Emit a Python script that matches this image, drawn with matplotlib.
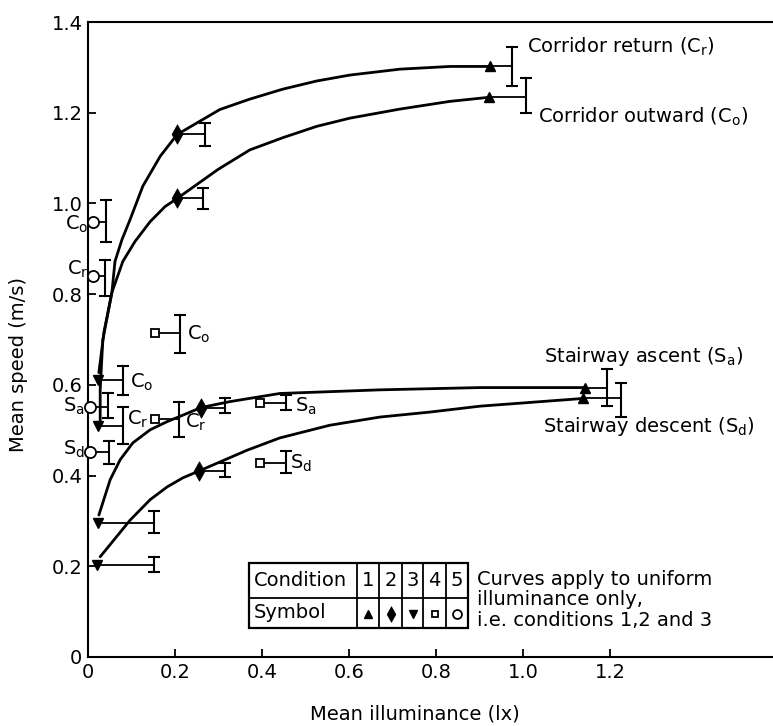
import matplotlib
matplotlib.use('Agg')
import matplotlib.pyplot as plt
from matplotlib.patches import Rectangle

plt.rcParams['font.family'] = ['DejaVu Sans']
plt.rcParams['mathtext.default'] = 'regular'
plt.rcParams['font.size'] = 14

# measured points: condition, mean illuminance, mean speed,
# and the speed range bar drawn at the end of the illuminance range
pt_cond = [1, 1, 2, 2, 5, 5, 3, 5, 3, 5, 4, 4, 4, 4, 2, 2, 1, 1, 3, 3]
pt_x = [0.924, 0.922, 0.205, 0.205, 0.011, 0.011, 0.023, 0.005, 0.023, 0.005,
        0.154, 0.154, 0.395, 0.395, 0.26, 0.255, 1.143, 1.138, 0.023, 0.021]
pt_y = [1.302, 1.234, 1.152, 1.011, 0.958, 0.839, 0.611, 0.552, 0.51, 0.453,
        0.715, 0.525, 0.561, 0.428, 0.55, 0.41, 0.594, 0.57, 0.296, 0.203]
bar_x = [0.975, 1.007, 0.269, 0.264, 0.041, 0.039, 0.08, 0.046, 0.08, 0.048,
         0.211, 0.209, 0.455, 0.455, 0.315, 0.315, 1.193, 1.225, 0.152, 0.152]
bar_lo = [1.258, 1.199, 1.126, 0.987, 0.914, 0.795, 0.578, 0.528, 0.47, 0.426,
          0.671, 0.486, 0.545, 0.406, 0.539, 0.397, 0.554, 0.53, 0.274, 0.188]
bar_hi = [1.344, 1.276, 1.177, 1.035, 1.007, 0.876, 0.642, 0.581, 0.552, 0.477,
          0.755, 0.563, 0.578, 0.455, 0.57, 0.428, 0.634, 0.605, 0.322, 0.221]

# fitted curves
cr_x = [0.028, 0.028, 0.034, 0.055, 0.062, 0.078, 0.097, 0.126, 0.166, 0.205,
        0.303, 0.372, 0.448, 0.526, 0.602, 0.717, 0.832, 0.924]
cr_y = [0.51, 0.589, 0.699, 0.804, 0.872, 0.92, 0.965, 1.038, 1.104, 1.152,
        1.207, 1.23, 1.252, 1.27, 1.283, 1.296, 1.302, 1.302]
co_x = [0.025, 0.037, 0.055, 0.08, 0.108, 0.143, 0.177, 0.205, 0.299, 0.372,
        0.448, 0.526, 0.602, 0.717, 0.832, 0.922]
co_y = [0.627, 0.718, 0.804, 0.872, 0.916, 0.96, 0.993, 1.011, 1.075, 1.118,
        1.145, 1.17, 1.188, 1.208, 1.225, 1.234]
sa_x = [0.025, 0.051, 0.074, 0.103, 0.143, 0.182, 0.21, 0.26, 0.326, 0.441,
        0.556, 0.671, 0.901, 1.143]
sa_y = [0.313, 0.391, 0.435, 0.472, 0.501, 0.519, 0.53, 0.55, 0.563, 0.581,
        0.585, 0.589, 0.594, 0.594]
sd_x = [0.028, 0.097, 0.143, 0.182, 0.218, 0.255, 0.366, 0.441, 0.556, 0.671,
        0.786, 0.901, 1.138]
sd_y = [0.221, 0.302, 0.347, 0.375, 0.395, 0.41, 0.456, 0.483, 0.511, 0.529,
        0.54, 0.553, 0.57]

# small labels next to points
lab_text = ['C$_o$', 'C$_r$', 'S$_a$', 'S$_d$', 'C$_o$', 'C$_r$', 'C$_o$', 'C$_r$', 'S$_a$', 'S$_d$']
lab_x = [0.0, 0.0, -0.007, -0.007, 0.097, 0.09, 0.228, 0.223, 0.476, 0.464]
lab_y = [0.954, 0.854, 0.552, 0.457, 0.605, 0.523, 0.711, 0.517, 0.552, 0.428]
lab_ha = ['right', 'right', 'right', 'right', 'left', 'left', 'left', 'left', 'left', 'left']

curve_names = ['Corridor return (C$_r$)', 'Corridor outward (C$_o$)',
               'Stairway ascent (S$_a$)', 'Stairway descent (S$_d$)']
curve_name_x = [1.009, 1.034, 1.048, 1.046]
curve_name_y = [1.346, 1.19, 0.662, 0.508]

conditions = ['1', '2', '3', '4', '5']
x_ticks = [0, 0.2, 0.4, 0.6, 0.8, 1.0, 1.2]
y_ticks = [0, 0.2, 0.4, 0.6, 0.8, 1.0, 1.2, 1.4]

diamond = [(0, 1), (0.56, 0), (0, -1), (-0.56, 0), (0, 1)]
marker_style = {
    1: dict(marker='^', ms=7, mfc='black'),
    2: dict(marker=diamond, ms=14, mfc='black', mew=0.5),
    3: dict(marker='v', ms=7, mfc='black'),
    4: dict(marker='s', ms=6, mfc='white', mew=1.3),
    5: dict(marker='o', ms=8, mfc='white', mew=1.3),
}

fig = plt.figure(figsize=(7.73, 7.26), dpi=100)
ax = fig.add_axes([88 / 773, 69 / 726, 685 / 773, 635 / 726])
ax.set_xlim(0, 685 / 435)
ax.set_ylim(0, 1.4)

for cx, cy in [(cr_x, cr_y), (co_x, co_y), (sa_x, sa_y), (sd_x, sd_y)]:
    ax.plot(cx, cy, color='black', lw=2.0, solid_capstyle='round', zorder=2)

for i in range(len(pt_x)):
    ax.plot([pt_x[i], bar_x[i]], [pt_y[i], pt_y[i]], color='black', lw=1.3, zorder=3)
    ax.plot([bar_x[i], bar_x[i]], [bar_lo[i], bar_hi[i]], color='black', lw=1.5, zorder=3)
    ax.plot([bar_x[i], bar_x[i]], [bar_lo[i], bar_hi[i]], ls='none', marker='_',
            ms=9, mew=1.5, color='black', zorder=3)
    ax.plot(pt_x[i], pt_y[i], ls='none', mec='black', zorder=5,
            clip_on=False, **marker_style[pt_cond[i]])

for t, x, y, ha in zip(lab_text, lab_x, lab_y, lab_ha):
    ax.text(x, y, t, ha=ha, va='center', fontsize=14)

for t, x, y in zip(curve_names, curve_name_x, curve_name_y):
    ax.text(x, y, t, ha='left', va='center', fontsize=14)

ax.text(0.894, 0.126, 'Curves apply to uniform\nilluminance only,\ni.e. conditions 1,2 and 3',
        ha='left', va='center', fontsize=14, linespacing=1.1)

ax.spines['right'].set_visible(False)
for s in ['left', 'top', 'bottom']:
    ax.spines[s].set_linewidth(1.5)
ax.set_xticks(x_ticks)
ax.set_xticklabels(['0' if v == 0 else f'{v:.1f}' for v in x_ticks])
ax.set_yticks(y_ticks)
ax.set_yticklabels(['0' if v == 0 else f'{v:.1f}' for v in y_ticks])
ax.tick_params(direction='in', length=6, width=1.3, labelsize=14, pad=4)

ax.set_xlabel('Mean illuminance (lx)', fontsize=14)
ax.set_ylabel('Mean speed (m/s)', fontsize=14)
ax.xaxis.set_label_coords(0.477, -0.075)
ax.yaxis.set_label_coords(-0.087, 0.46)

# condition / symbol table
tab = fig.add_axes([249 / 773, 98 / 726, 219 / 773, 65 / 726])
tab.set_xlim(0, 219)
tab.set_ylim(65, 0)
tab.axis('off')
col_edges = [0, 108, 130, 153, 174, 197, 219]
tab.add_patch(Rectangle((0, 0), 219, 65, fill=False, lw=1.6, ec='black', clip_on=False))
tab.plot([0, 219], [35, 35], color='black', lw=1.3)
for e in col_edges[1:-1]:
    tab.plot([e, e], [0, 65], color='black', lw=1.3)
tab.text(5, 17.5, 'Condition', ha='left', va='center', fontsize=14)
tab.text(5, 50, 'Symbol', ha='left', va='center', fontsize=14)
for j, c in enumerate(conditions):
    cx = (col_edges[j + 1] + col_edges[j + 2]) / 2
    tab.text(cx, 18, c, ha='center', va='center', fontsize=14)
    st = dict(marker_style[j + 1])
    st['ms'] = st['ms'] * 0.8
    tab.plot(cx, 51, ls='none', mec='black', **st)

fig.savefig('out.png', dpi=100)
